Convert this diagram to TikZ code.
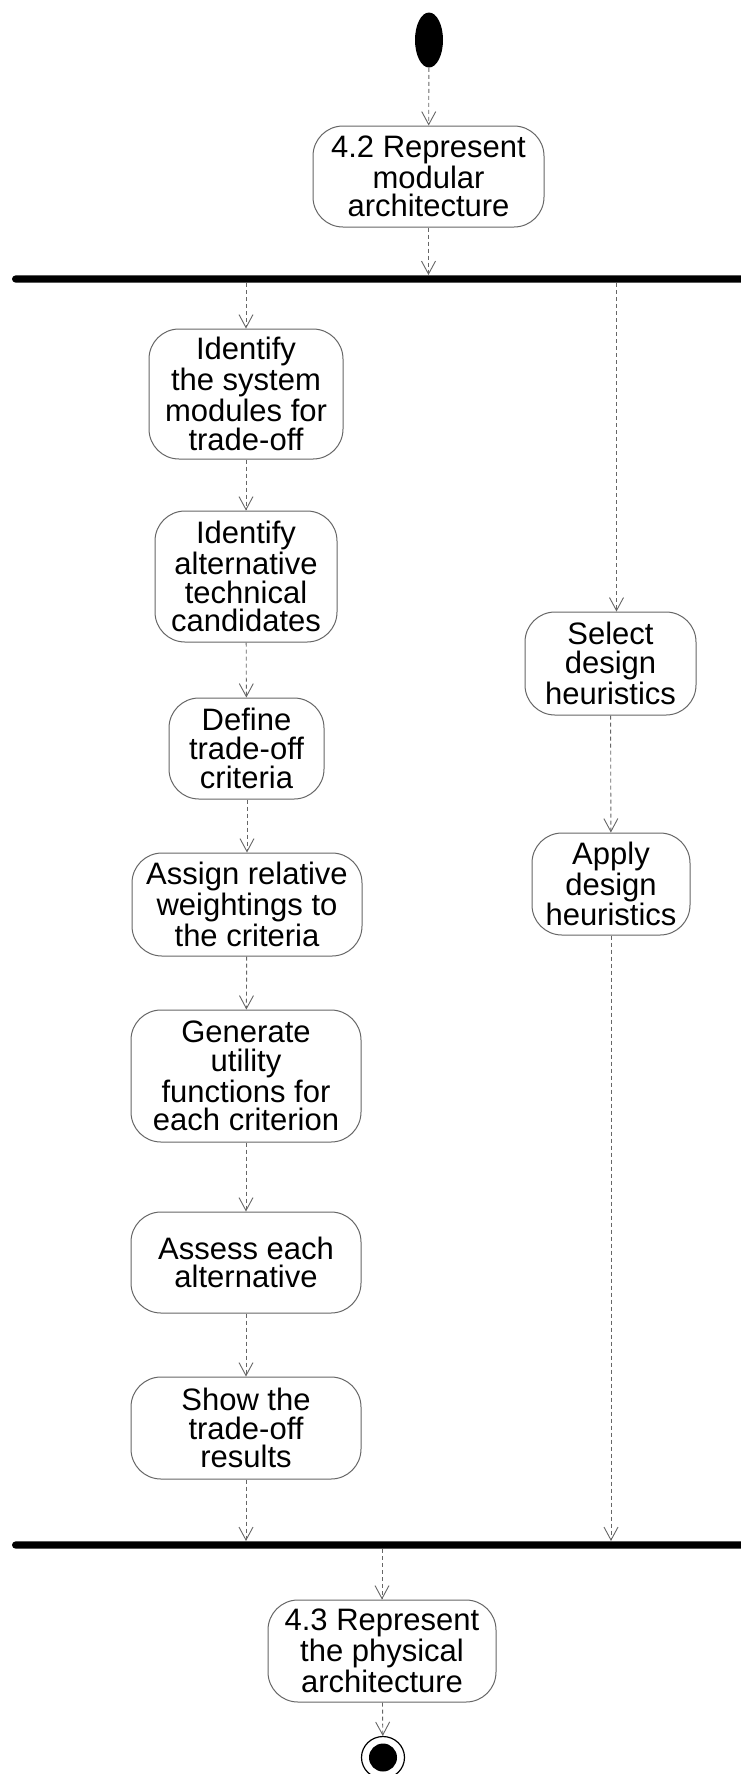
\documentclass[tikz,border=0pt]{standalone}
\usepackage{fontspec}
\setmainfont{Liberation Sans}
\usetikzlibrary{arrows.meta,shapes.geometric}
\tikzset{
  act/.style={draw=black!60, line width=0.5pt, rounded corners=15pt, fill=white, align=center,
    inner sep=0pt, font=\fontsize{15.5}{14.3}\selectfont},
  flow/.style={draw=black!60, line width=0.45pt, dash pattern=on 2pt off 1.5pt,
    -{Straight Barb[length=6.5pt,width=7pt]}},
  forkbar/.style={fill=black, draw=none, minimum height=3.6pt, inner sep=0pt, rounded corners=1.8pt},
}
\begin{document}
\begin{tikzpicture}[x=0.5pt,y=-0.5pt]
\useasboundingbox (0,0) rectangle (740,1774);
% start
\node[ellipse, fill=black, minimum width=14pt, minimum height=27.5pt, inner sep=0pt] (start) at (429,40) {};
\node[act, minimum width=115.5pt, minimum height=50.5pt] (a42) at (428.5,176.5) {4.2 Represent\\modular\\architecture};
% fork bar
\node[forkbar, minimum width=374pt] (f1) at (386,279) {};
% left branch
\node[act, minimum width=97pt, minimum height=65pt] (n1) at (246,394) {Identify\\the system\\modules for\\trade-off};
\node[act, minimum width=91pt, minimum height=65.5pt] (n2) at (246,576.5) {Identify\\alternative\\technical\\candidates};
\node[act, minimum width=77.5pt, minimum height=50.5pt] (n3) at (246.5,748.5) {Define\\trade-off\\criteria};
\node[act, minimum width=115pt, minimum height=51.5pt] (n4) at (247,904.5) {Assign relative\\weightings to\\the criteria};
\node[act, minimum width=115pt, minimum height=66pt] (n5) at (246,1076) {Generate\\utility\\functions for\\each criterion};
\node[act, minimum width=115pt, minimum height=50.5pt] (n6) at (246,1262.5) {Assess each\\alternative};
\node[act, minimum width=115pt, minimum height=51pt] (n7) at (246,1428) {Show the\\trade-off\\results};
% right branch
\node[act, minimum width=85.5pt, minimum height=51.5pt] (s1) at (610.5,663.5) {Select\\design\\heuristics};
\node[act, minimum width=79pt, minimum height=51pt] (s2) at (611,884) {Apply\\design\\heuristics};
% join bar
\node[forkbar, minimum width=374pt] (f2) at (386,1545) {};
\node[act, minimum width=114pt, minimum height=51pt] (a43) at (382,1651) {4.3 Represent\\the physical\\architecture};
% end
\node[ellipse, draw=black, line width=0.6pt, fill=white, minimum width=21.5pt, minimum height=21pt, inner sep=0pt] (end) at (383,1757.5) {};
\node[circle, fill=black, minimum size=14pt, inner sep=0pt] (endin) at (end.center) {};
% flows
\draw[flow] (start) -- (a42);
\draw[flow] (a42) -- (a42 |- f1.north);
\draw[flow] (f1.south -| n1) -- (n1);
\draw[flow] (n1) -- (n2);
\draw[flow] (n2) -- (n3);
\draw[flow] (n3.south -| n4) -- (n4);
\draw[flow] (n4) -- (n5);
\draw[flow] (n5) -- (n6);
\draw[flow] (n6) -- (n7);
\draw[flow] (n7) -- (n7 |- f2.north);
\draw[flow] ([xshift=3pt]f1.south -| s1) -- ([xshift=3pt]s1.north);
\draw[flow] (s1) -- (s2);
\draw[flow] (s2) -- (s2 |- f2.north);
\draw[flow] (f2.south -| a43) -- (a43);
\draw[flow] (a43) -- (end);
\end{tikzpicture}
\end{document}
